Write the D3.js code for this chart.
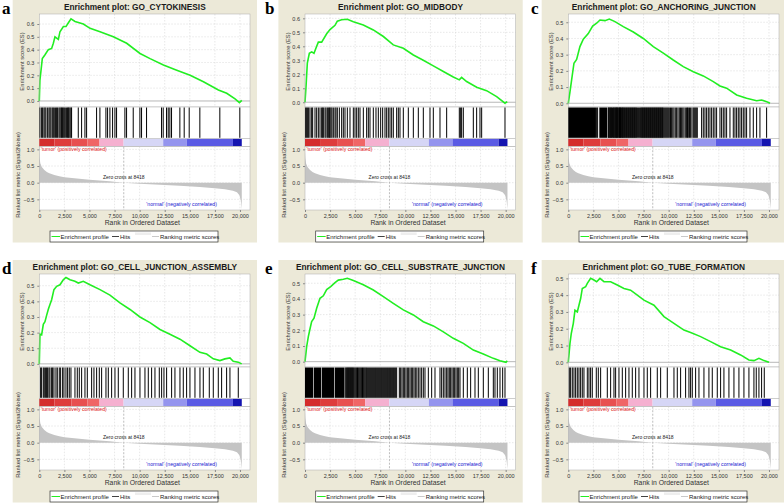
<!DOCTYPE html>
<html><head><meta charset="utf-8">
<script src="https://cdn.jsdelivr.net/npm/d3@7"></script>
<style>body{margin:0;background:#fff}svg{display:block}text{font-family:"Liberation Sans",Arial,sans-serif}</style>
</head><body><svg id="chart" width="784" height="503"></svg>
<script>
// ---------------- data ----------------
const panelLetters = ['a','b','c','d','e','f'];
const panelTitles = ['GO_CYTOKINESIS','GO_MIDBODY','GO_ANCHORING_JUNCTION','GO_CELL_JUNCTION_ASSEMBLY','GO_CELL_SUBSTRATE_JUNCTION','GO_TUBE_FORMATION'];
const esDomains = [[-0.047,0.678],[-0.034,0.631],[-0.023,0.551],[-0.02,0.575],[-0.034,0.559],[-0.028,0.526]];
const esTickMax = [0.6,0.6,0.5,0.5,0.5,0.5];
const xTicks = [0,2500,5000,7500,10000,12500,15000,17500,20000];
const metricTicks = [-0.5,0.0,0.5,1.0];
const zeroCross = 8418;

// running enrichment score [rank, ES]
const esA = [[0,0],[60,0.16],[300,0.33],[570,0.36],[900,0.40],[1230,0.41],[1400,0.45],[1560,0.50],[1900,0.48],[2060,0.54],[2400,0.58],[2660,0.58],[2900,0.61],[3160,0.64],[3560,0.62],[4390,0.60],[5060,0.566],[6050,0.54],[7380,0.50],[8710,0.45],[10040,0.37],[11040,0.33],[12370,0.28],[13700,0.24],[15030,0.20],[16360,0.15],[17850,0.086],[18680,0.06],[19510,0.016],[19945,-0.013],[20180,0.005]];
const esB = [[0,0.0],[100,0.11],[232,0.28],[432,0.35],[664,0.36],[897,0.35],[1163,0.40],[1330,0.43],[1660,0.43],[2160,0.49],[2490,0.52],[2990,0.55],[3220,0.58],[3650,0.59],[4220,0.593],[4820,0.576],[5810,0.552],[6810,0.517],[7810,0.47],[8800,0.41],[9800,0.386],[10800,0.338],[11790,0.30],[12790,0.26],[13790,0.22],[14780,0.18],[15380,0.16],[15610,0.178],[16110,0.148],[17110,0.107],[18100,0.083],[19100,0.04],[19930,-0.007],[20160,0.005]];
const esC = [[0,0.0],[166,0.07],[332,0.144],[565,0.247],[830,0.27],[1160,0.35],[1495,0.395],[1990,0.43],[2425,0.477],[2824,0.494],[3155,0.514],[3654,0.51],[4086,0.52],[4650,0.504],[5480,0.473],[6480,0.44],[7475,0.40],[8470,0.35],[9470,0.31],[10460,0.267],[11460,0.226],[12460,0.195],[13450,0.169],[14450,0.134],[15120,0.107],[15780,0.093],[16780,0.051],[17770,0.031],[18770,0.016],[19270,0.02],[19770,0.01],[20100,0.0]];
const esD = [[0,0.0],[66,0.19],[232,0.186],[400,0.253],[565,0.27],[730,0.31],[900,0.35],[1063,0.38],[1230,0.41],[1460,0.475],[1730,0.496],[2060,0.506],[2390,0.538],[2660,0.553],[3060,0.538],[3550,0.528],[3890,0.517],[4385,0.528],[5050,0.506],[6050,0.475],[7040,0.44],[8040,0.39],[9040,0.348],[10030,0.30],[11030,0.264],[12030,0.22],[13020,0.19],[14020,0.158],[15020,0.116],[16010,0.074],[16680,0.063],[17340,0.032],[18000,0.021],[18500,0.032],[19000,0.038],[19330,0.017],[19830,0.011],[20170,0.0]];
const esE = [[0,0.0],[166,0.096],[332,0.16],[500,0.21],[664,0.255],[897,0.277],[1163,0.34],[1495,0.404],[1827,0.42],[2160,0.46],[2560,0.479],[2990,0.504],[3320,0.52],[3820,0.526],[4220,0.532],[4820,0.517],[5810,0.49],[6810,0.457],[7810,0.415],[8800,0.372],[9800,0.33],[10800,0.298],[11790,0.255],[12790,0.228],[13790,0.19],[14780,0.149],[15780,0.117],[16780,0.074],[17770,0.049],[18770,0.021],[19430,0.006],[20030,-0.004],[20160,0.006]];
const esF = [[0,0.0],[166,0.113],[300,0.173],[500,0.232],[664,0.31],[897,0.30],[1063,0.34],[1230,0.38],[1395,0.44],[1727,0.45],[1894,0.47],[2226,0.50],[2558,0.49],[2824,0.48],[3156,0.50],[3555,0.48],[4220,0.48],[4883,0.46],[5548,0.44],[6212,0.43],[6877,0.40],[7540,0.37],[8540,0.34],[9534,0.272],[10530,0.232],[11527,0.192],[12190,0.177],[13190,0.153],[14185,0.123],[15180,0.093],[16180,0.073],[17170,0.044],[18000,0.014],[18500,0.01],[19000,0.024],[19500,0.01],[20000,0.0]];

// gene-set hit ranks
const hitsA = [66,232,332,465,565,664,830,963,1063,1162,1295,1395,1494,1627,1727,1826,1959,2058,2158,2224,2324,2390,2490,2590,2722,2822,2888,2955,3054,3154,3220,3885,4216,4548,4714,5710,6042,6640,6806,7038,7304,7536,7702,8532,8698,9362,10026,10192,10690,12184,12350,12682,12848,13014,13180,14010,14442,14940,16002,17994,19986];
const hitsB = [66,166,266,365,498,664,764,997,1163,1329,1495,1661,1761,1827,1993,2093,2226,2325,2425,2492,2591,2691,2824,2990,3089,3222,3422,3654,3820,3986,4219,4485,4817,4983,5149,5315,5481,5814,6146,6312,6478,6810,7076,7308,7541,7740,7973,8139,8305,8471,8637,8803,9136,9302,9468,9800,10298,10797,11295,11793,12458,12790,13454,14119,15381,15514,15613,15780,16776,17108,17440,17607,19932];
const hitsC = [2824,2923,3986,4036,4086,4152,4219,4269,4319,4402,4485,4534,4584,4650,4717,4767,4817,4867,4917,4983,5049,5099,5149,5199,5249,5315,5382,5431,5481,5548,5614,5680,5747,5813,5880,5946,6013,6079,6146,6212,6279,6345,6411,6478,6544,6610,6677,6743,6810,6909,7009,7109,7209,7275,7342,7408,7475,7541,7607,7673,7740,7806,7873,7939,8006,8072,8139,8205,8272,8338,8405,8471,8538,8604,8670,8736,8803,8869,8936,9002,9069,9135,9202,9268,9335,9401,9468,9567,9667,9766,9866,9966,10066,10182,10298,10414,10531,10664,10797,10930,11062,11178,11295,11411,11527,11660,11793,11876,11959,12075,12192,12325,12458,12557,12657,12756,12856,13288,13454,13620,13786,13952,14119,14285,14451,14617,14783,15115,15281,15447,15613,15780,16112,16444,16610,16776,16942,17108,17274,17440,17607,17773,18105,18437,18769,19101,19766];
const hitsD = [133,232,399,498,631,731,830,963,1063,1229,1329,1462,1661,1794,1993,2126,2325,2458,2657,2823,2989,3155,3554,3787,3986,4219,4551,4784,5216,5448,5714,5980,6212,6644,6877,7209,7541,7873,8371,8870,9202,9534,10032,10531,10863,11195,11527,11959,12192,12424,12690,13188,13520,14019,14351,14683,15015,15514,16012,16344,16942,17341,17839,18171,18669,19001,19832];
const hitsE = [3986,4070,4153,4219,4285,4352,4418,4485,4551,4618,4684,4750,4817,4900,4983,5066,5149,5232,5315,5398,5481,5564,5647,5730,5814,5897,5980,6063,6146,6245,6345,6445,6544,6644,6744,6843,6943,7042,7142,7242,7342,7441,7541,7640,7740,7840,7940,8039,8139,8238,8338,8437,8537,8637,8737,8836,8936,9036,9136,9402,9535,9667,9800,9933,10066,10199,10332,10464,10597,10730,10863,10996,11145,11295,11461,11627,11793,11959,12292,12624,12956,13454,13620,13786,13952,14119,14252,14384,14517,14650,14783,14916,15049,15182,15315,15448,15780,16178,16510,16942,17274,17773,18271,18769,18935,19168,19434,19700,19932];
const hitsF = [100,233,399,565,731,897,1063,1229,1395,1561,1894,2059,2225,2391,2790,2990,3222,3887,4219,4551,4717,5049,5382,5714,6046,6378,6711,7043,7541,7873,8205,8870,9202,9866,10531,10863,11195,11693,12025,12191,12357,12689,13021,13519,14017,14350,14848,15180,15512,16010,16509,17007,17505,18003,18501,18734,19000,19266,19532];
// solid (saturated) stretches of hits in the dense gene sets [startRank, endRank]
const hitBlocksC = [[0,2757],[3090,3887]];
const hitBlocksE = [[0,820],[880,1620],[1680,2920],[2980,3900]];

// ranked list metric (Signal2Noise) [rank, value]
const metric = [[0,0.95],[30,0.75],[100,0.58],[250,0.47],[500,0.38],[750,0.32],[1000,0.28],[1500,0.23],[2000,0.19],[2500,0.165],[3000,0.145],[4000,0.115],[5000,0.09],[6000,0.068],[7000,0.042],[8418,0],[10000,-0.03],[12000,-0.06],[14000,-0.09],[16000,-0.13],[17500,-0.17],[18500,-0.2],[19300,-0.24],[19700,-0.29],[19950,-0.38],[20100,-0.55],[20180,-0.8]];

// heat-map bar bands [startRank, endRank, colour]
const barBands = [[0,1500,'#d42c2c'],[1500,3200,'#de3c3c'],[3200,4800,'#e85050'],[4800,6000,'#f06666'],[6000,8400,'#f5b0d0'],[8400,12350,'#d6d6f6'],[12350,14700,'#9494ee'],[14700,19300,'#5a5ae4'],[19300,20180,'#1414b0']];

// ---------------- drawing ----------------
const esSeries = [esA,esB,esC,esD,esE,esF];
const hitSeries = [hitsA,hitsB,hitsC,hitsD,hitsE,hitsF];
const blockSeries = [[],[],hitBlocksC,[],hitBlocksE,[]];
const colOffsets = [0,265.7,529];
const rowOffsets = [0,260];
const letterX = [2,265,531];

const svg = d3.select('#chart');
const L = 39.3;
const ES_T = 14, ES_B = 107, HIT_B = 138.3, BAR_B = 146.7, MET_B = 210;

panelLetters.forEach((letter, i) => {
  const ox = colOffsets[i % 3], oy = rowOffsets[Math.floor(i / 3)];
  const g = svg.append('g').attr('transform', `translate(${ox},${oy})`);
  const x = d3.scaleLinear().domain([0, 21000]).range([L, L + 210.7]);
  const y = d3.scaleLinear().domain(esDomains[i]).range([ES_B, ES_T]);
  const ym = d3.scaleLinear().domain([-0.82, 1.08]).range([MET_B, BAR_B]);

  // panel background
  g.append('rect').attr('x', L - 26.6).attr('y', 0).attr('width', 244.3).attr('height', 242.5).attr('fill', '#ece9d8');
  // letter
  svg.append('text').attr('x', letterX[i % 3]).attr('y', oy + 14).attr('style', 'font-family:"Liberation Serif",serif')
    .attr('font-weight', 'bold').attr('font-size', 17).text(letter);
  // title
  g.append('text').attr('x', L + 95.5).attr('y', 9.8).attr('text-anchor', 'middle').attr('font-weight', 'bold')
    .attr('font-size', 8.3).attr('fill', '#1a1a1a').text('Enrichment plot: ' + panelTitles[i]);

  // ES plot
  g.append('rect').attr('x', L).attr('y', ES_T).attr('width', 210.7).attr('height', ES_B - ES_T).attr('fill', '#fff');
  const esTicks = d3.range(0, esTickMax[i] + 0.001, 0.1);
  g.selectAll(null).data(xTicks.slice(1)).join('line').attr('x1', d => x(d)).attr('x2', d => x(d))
    .attr('y1', ES_T).attr('y2', ES_B).attr('stroke', '#d8d8d8').attr('stroke-width', 0.6).attr('stroke-dasharray', '1.5,1.5');
  g.selectAll(null).data(esTicks.slice(1)).join('line').attr('x1', L).attr('x2', L + 210.7)
    .attr('y1', d => y(d)).attr('y2', d => y(d)).attr('stroke', '#d8d8d8').attr('stroke-width', 0.6).attr('stroke-dasharray', '1.5,1.5');
  g.append('line').attr('x1', L).attr('x2', L + 210.7).attr('y1', y(0)).attr('y2', y(0)).attr('stroke', '#9a9a9a').attr('stroke-width', 0.7);
  const yAxis = d3.axisLeft(y).tickValues(esTicks).tickFormat(d3.format('.1f')).tickSize(2);
  const ya = g.append('g').attr('transform', `translate(${L},0)`).call(yAxis);
  ya.select('.domain').remove();
  ya.selectAll('line').attr('stroke', '#888');
  ya.selectAll('text').attr('font-size', 5.5).attr('fill', '#333');
  g.append('path').datum(esSeries[i]).attr('fill', 'none').attr('stroke', '#22ee22').attr('stroke-width', 1.6)
    .attr('d', d3.line().x(d => x(d[0])).y(d => y(d[1])));
  g.append('rect').attr('x', L).attr('y', ES_T).attr('width', 210.7).attr('height', ES_B - ES_T).attr('fill', 'none').attr('stroke', '#aaa').attr('stroke-width', 0.5);
  g.append('text').attr('transform', `translate(${L - 15.5},${(ES_T + ES_B) / 2 + 1}) rotate(-90)`).attr('text-anchor', 'middle')
    .attr('font-size', 5.8).attr('fill', '#333').text('Enrichment score (ES)');

  // hits
  g.append('rect').attr('x', L).attr('y', ES_B).attr('width', 210.7).attr('height', HIT_B - ES_B).attr('fill', '#fff').attr('stroke', '#aaa').attr('stroke-width', 0.5);
  g.selectAll(null).data(blockSeries[i]).join('rect').attr('x', d => x(d[0])).attr('width', d => x(d[1]) - x(d[0]))
    .attr('y', ES_B + 0.5).attr('height', HIT_B - ES_B - 1).attr('fill', '#000');
  g.selectAll(null).data(hitSeries[i]).join('line').attr('x1', d => x(d)).attr('x2', d => x(d))
    .attr('y1', ES_B + 0.5).attr('y2', HIT_B - 0.5).attr('stroke', '#000').attr('stroke-width', 1);

  // heat bar
  g.append('rect').attr('x', L).attr('y', HIT_B).attr('width', 210.7).attr('height', BAR_B - HIT_B).attr('fill', '#fff').attr('stroke', '#aaa').attr('stroke-width', 0.5);
  g.selectAll(null).data(barBands).join('rect').attr('x', d => x(d[0])).attr('width', d => x(d[1]) - x(d[0]))
    .attr('y', HIT_B + 0.6).attr('height', BAR_B - HIT_B - 1.2).attr('fill', d => d[2]);

  // metric plot
  g.append('rect').attr('x', L).attr('y', BAR_B).attr('width', 210.7).attr('height', MET_B - BAR_B).attr('fill', '#fff');
  g.selectAll(null).data(xTicks.slice(1)).join('line').attr('x1', d => x(d)).attr('x2', d => x(d))
    .attr('y1', BAR_B).attr('y2', MET_B).attr('stroke', '#d8d8d8').attr('stroke-width', 0.6).attr('stroke-dasharray', '1.5,1.5');
  g.selectAll(null).data(metricTicks).join('line').attr('x1', L).attr('x2', L + 210.7)
    .attr('y1', d => ym(d)).attr('y2', d => ym(d)).attr('stroke', '#d8d8d8').attr('stroke-width', 0.6).attr('stroke-dasharray', '1.5,1.5');
  g.append('path').datum(metric).attr('fill', '#c4c4c4').attr('stroke', 'none')
    .attr('d', d3.area().x(d => x(d[0])).y0(ym(0)).y1(d => ym(d[1])));
  g.append('line').attr('x1', x(zeroCross)).attr('x2', x(zeroCross)).attr('y1', BAR_B).attr('y2', MET_B)
    .attr('stroke', '#a0a0a0').attr('stroke-width', 0.7).attr('stroke-dasharray', '2,1.5');
  g.append('rect').attr('x', L).attr('y', BAR_B).attr('width', 210.7).attr('height', MET_B - BAR_B).attr('fill', 'none').attr('stroke', '#aaa').attr('stroke-width', 0.5);
  const mAxis = d3.axisLeft(ym).tickValues(metricTicks).tickFormat(d3.format('.1f')).tickSize(2);
  const ma = g.append('g').attr('transform', `translate(${L},0)`).call(mAxis);
  ma.select('.domain').remove();
  ma.selectAll('line').attr('stroke', '#888');
  ma.selectAll('text').attr('font-size', 5.5).attr('fill', '#333');
  g.append('text').attr('x', x(zeroCross)).attr('y', ym(0.16) + 2).attr('text-anchor', 'middle').attr('font-size', 5).attr('fill', '#222').text('Zero cross at ' + zeroCross);
  g.append('text').attr('x', L + 1.5).attr('y', ym(1.0) + 2).attr('font-size', 5.2).attr('fill', '#e02020').text("'tumor' (positively correlated)");
  g.append('text').attr('x', L + 107).attr('y', ym(-0.65) + 2).attr('font-size', 5.2).attr('fill', '#2020d0').text("'normal' (negatively correlated)");
  g.append('text').attr('transform', `translate(${L - 19},${175}) rotate(-90)`).attr('text-anchor', 'middle')
    .attr('font-size', 5.8).attr('fill', '#333').text('Ranked list metric (Signal2Noise)');

  // x axis
  const xAxis = d3.axisBottom(x).tickValues(xTicks).tickFormat(d3.format(',')).tickSize(2);
  const xa = g.append('g').attr('transform', `translate(0,${MET_B})`).call(xAxis);
  xa.select('.domain').remove();
  xa.selectAll('line').attr('stroke', '#888');
  xa.selectAll('text').attr('font-size', 5.5).attr('fill', '#333').attr('dy', '0.6em');
  g.append('text').attr('x', L + 103).attr('y', 224.5).attr('text-anchor', 'middle').attr('font-size', 6.8).attr('fill', '#333').text('Rank in Ordered Dataset');

  // legend
  const lg = g.append('g').attr('transform', `translate(${L + 10.7},231)`);
  lg.append('rect').attr('width', 168).attr('height', 11).attr('fill', '#fff').attr('stroke', '#333').attr('stroke-width', 0.7);
  lg.append('line').attr('x1', 1.5).attr('x2', 10).attr('y1', 5.5).attr('y2', 5.5).attr('stroke', '#22ee22').attr('stroke-width', 1);
  lg.append('text').attr('x', 10.5).attr('y', 7.6).attr('font-size', 6).attr('fill', '#222').text('Enrichment profile');
  lg.append('line').attr('x1', 62).attr('x2', 69).attr('y1', 5.5).attr('y2', 5.5).attr('stroke', '#111').attr('stroke-width', 0.8);
  lg.append('text').attr('x', 70).attr('y', 7.6).attr('font-size', 6).attr('fill', '#222').text('Hits');
  lg.append('rect').attr('x', 85).attr('y', 1.5).attr('width', 16).attr('height', 2.5).attr('fill', '#eeeeee');
  lg.append('line').attr('x1', 102).attr('x2', 109).attr('y1', 5.5).attr('y2', 5.5).attr('stroke', '#bbb').attr('stroke-width', 0.8);
  lg.append('text').attr('x', 110).attr('y', 7.6).attr('font-size', 6).attr('fill', '#222').text('Ranking metric scores');
});
</script></body></html>
